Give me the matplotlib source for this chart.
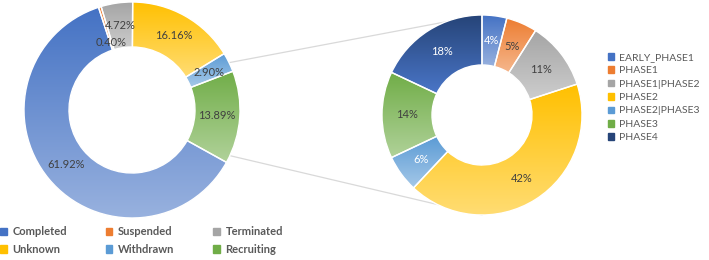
import matplotlib.pyplot as plt
import numpy as np
from matplotlib.colors import LinearSegmentedColormap, to_rgb
from matplotlib.patches import Patch

# Trial status share (left donut)
status_labels = ["Completed", "Suspended", "Terminated", "Unknown", "Withdrawn", "Recruiting"]
status_values = [61.92, 0.40, 4.72, 16.16, 2.90, 13.89]
status_colors = ["#4472C4", "#ED7D31", "#A5A5A5", "#FFC000", "#5B9BD5", "#70AD47"]

# Phase share (right donut)
phase_labels = ["EARLY_PHASE1", "PHASE1", "PHASE1|PHASE2", "PHASE2", "PHASE2|PHASE3", "PHASE3", "PHASE4"]
phase_values = [4, 5, 11, 42, 6, 14, 18]
phase_colors = ["#4472C4", "#ED7D31", "#A5A5A5", "#FFC000", "#5B9BD5", "#70AD47", "#264478"]
phase_text = ["white", "#404040", "#404040", "#404040", "white", "#404040", "white"]

W, H = 709, 260
FONT = "Lato"
TXT = "#404040"


def gradient(ax, wedge, color, tint=0.45):
    top = np.array(to_rgb(color))
    if color == "#264478":
        # dark blue in Excel fades towards the accent blue, not to grey
        bottom = np.array(to_rgb("#4A76C8"))
    else:
        bottom = top + (1 - top) * tint
    cmap = LinearSegmentedColormap.from_list("g", [top, bottom])
    ext = wedge.get_path().get_extents(wedge.get_patch_transform())
    img = ax.imshow(np.linspace(0, 1, 256).reshape(-1, 1), cmap=cmap, origin="upper",
                    extent=(ext.x0, ext.x1, ext.y0, ext.y1), zorder=2, interpolation="bilinear")
    img.set_clip_path(wedge)
    wedge.set_facecolor("none")
    wedge.set_zorder(3)


def donut(ax, values, colors, center, radius, width, start):
    wedges, _ = ax.pie(values, colors=colors, center=center, radius=radius,
                       startangle=90 - start, counterclock=False, normalize=True,
                       wedgeprops=dict(width=width, edgecolor="white", linewidth=1.0))
    for w, c in zip(wedges, colors):
        gradient(ax, w, c)
    return wedges


def put_label(ax, wedge, text, rfrac, color):
    cx, cy = wedge.center
    a = np.deg2rad((wedge.theta1 + wedge.theta2) / 2)
    ax.text(cx + rfrac * wedge.r * np.cos(a), cy + rfrac * wedge.r * np.sin(a), text,
            ha="center", va="center", fontsize=8, color=color, family=FONT, zorder=5)


fig = plt.figure(figsize=(7.09, 2.60), dpi=100)
ax = fig.add_axes([0, 0, 1, 1])

left_c, left_r = (132, 150), 108
right_c, right_r = (482, 145), 100

lw = donut(ax, status_values, status_colors, left_c, left_r, 45, 119)
rw = donut(ax, phase_values, phase_colors, right_c, right_r, 50, 0)

for w, v, lab in zip(lw, status_values, status_labels):
    put_label(ax, w, f"{v:.2f}%", 0.65 if lab == "Suspended" else 0.79, TXT)
for w, v, col in zip(rw, phase_values, phase_text):
    put_label(ax, w, f"{v}%", 0.75, col)

# connector lines from left donut to right donut
for ang, end in [(64, 90), (115, -90)]:
    a = np.deg2rad(90 - ang)
    x0 = left_c[0] + left_r * np.cos(a)
    y0 = left_c[1] + left_r * np.sin(a)
    b = np.deg2rad(end)
    x1 = right_c[0] + right_r * np.cos(b)
    y1 = right_c[1] + right_r * np.sin(b)
    ax.plot([x0, x1], [y0, y1], color="#D9D9D9", lw=0.9, zorder=1)

# legends
h = [Patch(color=c) for c in status_colors]
order = [0, 3, 1, 4, 2, 5]
leg1 = ax.legend([h[i] for i in order], [status_labels[i] for i in order], ncol=3,
                 loc="upper left", bbox_to_anchor=(0.0, 1 - 226 / H), frameon=False,
                 handlelength=0.6, handleheight=0.6, handletextpad=0.5,
                 columnspacing=3.5, labelspacing=0.62, borderaxespad=0, borderpad=0,
                 prop=dict(family=FONT, weight="bold", size=8))
for t in leg1.get_texts():
    t.set_color("#595959")
ax.add_artist(leg1)

h2 = [Patch(color=c) for c in phase_colors]
leg2 = ax.legend(h2, phase_labels, loc="upper left", bbox_to_anchor=(608 / W, 1 - 53 / H),
                 frameon=False, handlelength=0.6, handleheight=0.6, handletextpad=0.5,
                 labelspacing=0.42, borderaxespad=0, borderpad=0,
                 prop=dict(family=FONT, size=7.5))
for t in leg2.get_texts():
    t.set_color("#595959")

ax.set_xlim(0, W)
ax.set_ylim(0, H)
ax.set_aspect("auto")
ax.axis("off")
fig.savefig("out.png", dpi=100)
